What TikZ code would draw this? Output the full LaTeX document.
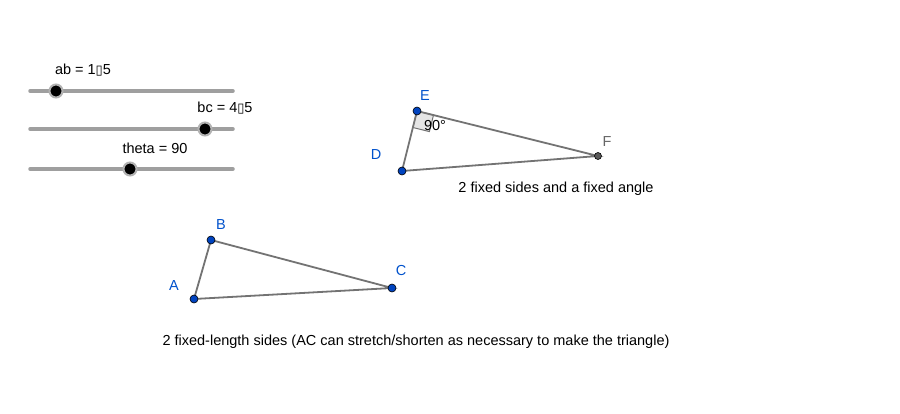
\documentclass[tikz,border=0pt]{standalone}
\usepackage{fontspec}
\usetikzlibrary{calc}
\setmainfont{Liberation Sans}
\newfontfamily\boxfont{DejaVu Sans}
\begin{document}
\begin{tikzpicture}[x=1pt,y=-1pt,
  lbl/.style={font=\fontsize{14.5}{16}\selectfont, text=black, inner sep=0pt},
  plbl/.style={font=\fontsize{14.5}{16}\selectfont, text=blue!60!cyan!80!black, inner sep=0pt},
  pt/.style={circle, draw=black, fill=blue!65!cyan!75!black, minimum size=8pt, inner sep=0pt, line width=0.6pt},
  gpt/.style={circle, draw=black, fill=gray!70!black, minimum size=7pt, inner sep=0pt, line width=0.6pt},
  side/.style={draw=gray!90!black, line width=1.8pt},
  bar/.style={draw=gray!75, line width=3.5pt, line cap=round},
  knob/.style={circle, fill=black, draw=gray!60, line width=2pt, minimum size=13pt, inner sep=0pt}]
\fill[white] (0,0) rectangle (900,413);
\useasboundingbox (0,0) rectangle (900,413);
% sliders
\coordinate (s1a) at (30,91); \coordinate (s1b) at (233,91);
\coordinate (s2a) at (30,129); \coordinate (s2b) at (233,129);
\coordinate (s3a) at (30,169); \coordinate (s3b) at (233,169);
\draw[bar] (s1a) -- (s1b);
\draw[bar] (s2a) -- (s2b);
\draw[bar] (s3a) -- (s3b);
\node[knob] (k1) at (56,91) {};
\node[knob] (k2) at (205,129) {};
\node[knob] (k3) at (130,169) {};
\node[lbl] (t1) at (83,70) {ab = 1{\boxfont\fontsize{13}{14}\selectfont ▯}5};
\node[lbl] (t2) at (225,108) {bc = 4{\boxfont\fontsize{13}{14}\selectfont ▯}5};
\node[lbl] (t3) at (155,148) {theta = 90};
% triangle DEF
\coordinate (Ec) at (417,111); \coordinate (Dc) at (402,171); \coordinate (Fc) at (598,156);
\coordinate (q1) at ($(Ec)!17pt!(Dc)$);
\coordinate (q2) at ($(Ec)!17pt!(Fc)$);
\coordinate (q3) at ($(q1)+(q2)-(Ec)$);
\draw[draw=gray!90!black, fill=gray!20, line width=1pt] (Ec) -- (q1) -- (q3) -- (q2) -- cycle;
\draw[side] (Ec) -- (Fc) -- (Dc) -- cycle;
\node[lbl] (ang) at (435,126) {90°};
\node[pt] (E) at (Ec) {};
\node[pt] (D) at (Dc) {};
\node[gpt] (F) at (Fc) {};
\node[plbl] at (425,96) {E};
\node[plbl] at (376,155) {D};
\node[plbl, text=gray!80!black] at (607,142) {F};
\node[lbl] (cap1) at (556,189) {2 fixed sides and a fixed angle};
% triangle ABC
\coordinate (Ac) at (194,299); \coordinate (Bc) at (211,240); \coordinate (Cc) at (392,288);
\draw[side] (Ac) -- (Bc) -- (Cc) -- cycle;
\node[pt] (A) at (Ac) {};
\node[pt] (B) at (Bc) {};
\node[pt] (C) at (Cc) {};
\node[plbl] at (174,286) {A};
\node[plbl] at (221,225) {B};
\node[plbl] at (401,271) {C};
\node[lbl] (cap2) at (416,342) {2 fixed-length sides (AC can stretch/shorten as necessary to make the triangle)};
\end{tikzpicture}
\end{document}
